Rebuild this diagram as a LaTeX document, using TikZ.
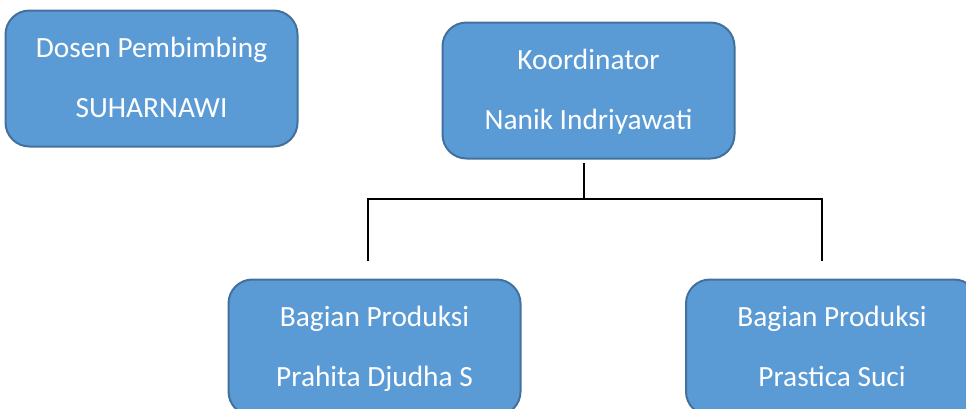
\documentclass[tikz,border=0pt]{standalone}
\usepackage{fontspec}
\setmainfont{Carlito}
\definecolor{boxfill}{RGB}{91,155,213}
\definecolor{boxline}{RGB}{65,113,156}
\newcommand{\lnstrut}{\vrule width0pt height18pt depth4pt}

\tikzset{every picture/.style={line width=0.75pt}}
\tikzset{orgbox/.style={draw=boxline, fill=boxfill, line width=1.5pt, rounded corners=18pt,
    minimum width=219pt, minimum height=102pt, inner sep=0pt,
    text=white, align=center, font=\fontsize{22}{45}\selectfont}}

\begin{document}
\begin{tikzpicture}[x=0.75pt,y=0.75pt,yscale=-1,xscale=1]
    \useasboundingbox (0,0) rectangle (966,408);
    \clip (0,0) rectangle (966,408);

    %Rounded Rect [dosen]
    \node [orgbox] (dosen) at (151.5,78.5) {\lnstrut Dosen Pembimbing\\SUHARNAWI\lnstrut};
    %Rounded Rect [koord]
    \node [orgbox] (koord) at (588.5,90.5) {\lnstrut Koordinator\\Nanik Indriyawati\lnstrut};
    %Rounded Rect [prodA]
    \node [orgbox] (prodA) at (374.5,347.5) {\lnstrut Bagian Produksi\\Prahita Djudha S\lnstrut};
    %Rounded Rect [prodB]
    \node [orgbox] (prodB) at (832,347.5) {\lnstrut Bagian Produksi\\Prastica Suci\lnstrut};

    %Straight Lines
    \coordinate (stem) at (584,163);
    \coordinate (split) at (584,199);
    \coordinate (dropA) at (368,261);
    \coordinate (dropB) at (822,261);
    \draw [line width=1.5pt] (stem) -- (split);
    \draw [line width=1.5pt] (dropA) |- (split) -| (dropB);

\end{tikzpicture}
\end{document}
